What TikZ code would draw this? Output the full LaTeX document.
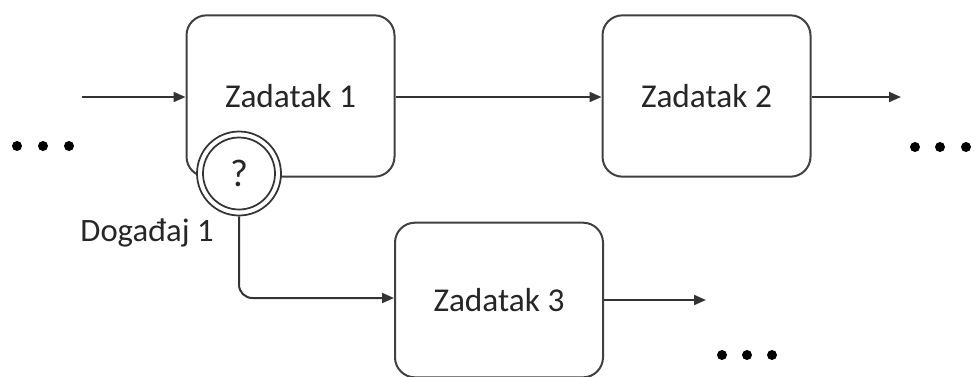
\documentclass[tikz,border=0pt]{standalone}
\usepackage{fontspec}
\setmainfont{Carlito}
\usetikzlibrary{arrows.meta}
\begin{document}
\begin{tikzpicture}[x=0.75pt,y=-0.75pt,
  task/.style={draw=black!75,line width=1.5pt,rounded corners=15pt,fill=white,minimum width=156pt,minimum height=121pt,font=\fontsize{25}{30}\selectfont,text=black!85,inner sep=0pt},
  flow/.style={draw=black!80,line width=1.5pt,-{Triangle[length=9pt,width=7.5pt]}},
  ring/.style={circle,draw=black!80,line width=1.3pt,fill=white,inner sep=0pt},
  dot/.style={circle,fill=black,inner sep=0pt,minimum size=7.5pt}]
\useasboundingbox (0,0) rectangle (975,376);
\node[task] (t1) at (290.5,96) {Zadatak 1};
\node[task] (t2) at (706.5,96) {Zadatak 2};
\node[task,minimum height=116pt] (t3) at (499,300) {Zadatak 3};
\node[ring,minimum size=63pt] (e1) at (239,173.5) {};
\node[ring,minimum size=54pt,font=\fontsize{29}{34}\selectfont,text=black!85] (e1in) at (239,173.5) {?};
\node[font=\fontsize{24.5}{30}\selectfont,text=black!85] (lbl) at (147,233) {Događaj 1};
\coordinate (in) at (82,97);
\coordinate (out2) at (901,97);
\coordinate (out3) at (706,300);
\draw[flow] (in) -- (t1.west |- in);
\draw[flow] (t1.east |- in) -- (t2.west |- in);
\draw[flow] (t2.east |- in) -- (out2);
\draw[flow] (t3.east |- out3) -- (out3);
\draw[flow,rounded corners=10pt] (e1.south) |- (t3.west |- 0,298);
\node[dot] (d1) at (17,146) {};
\node[dot] (d2) at (43,146) {};
\node[dot] (d3) at (69,146) {};
\node[dot] (d4) at (915,147) {};
\node[dot] (d5) at (940,147) {};
\node[dot] (d6) at (966,147) {};
\node[dot] (d7) at (722,355) {};
\node[dot] (d8) at (747,355) {};
\node[dot] (d9) at (772,355) {};
\end{tikzpicture}
\end{document}
